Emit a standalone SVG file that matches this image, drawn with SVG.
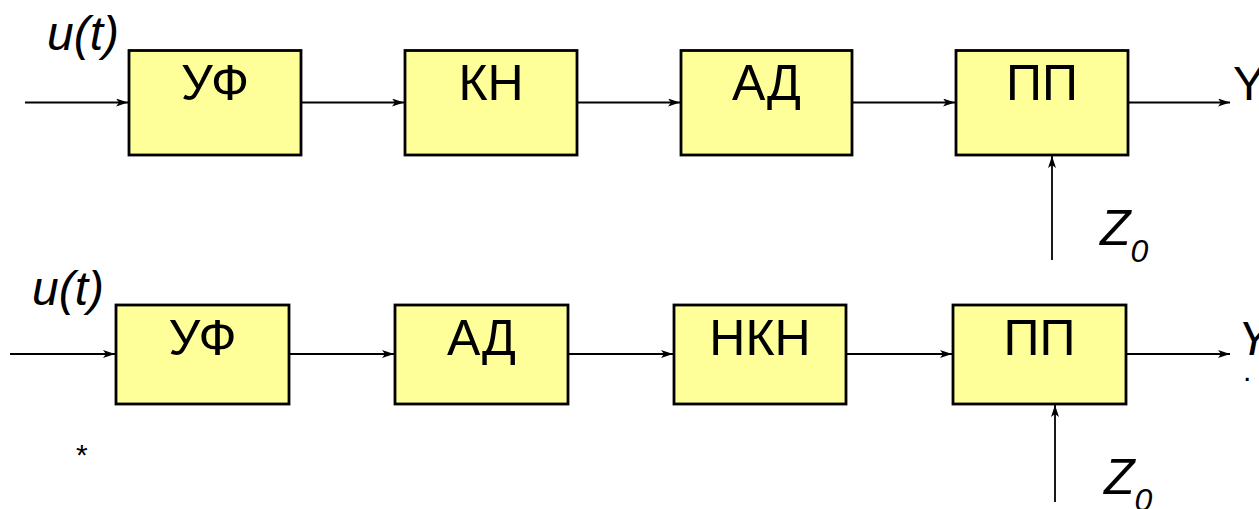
<svg xmlns="http://www.w3.org/2000/svg" width="1259" height="509" viewBox="0 0 1259 509">
<style>
.box{fill:#FFFF99;stroke:#000;stroke-width:2.8}
.lbl{font-family:"Liberation Sans",Arial,sans-serif;font-size:50px;text-anchor:middle;fill:#000}
.it{font-family:"Liberation Sans",Arial,sans-serif;font-style:italic;fill:#000}
.ln{stroke:#000;stroke-width:1.8;fill:none;marker-end:url(#ah)}
</style>
<defs>
<marker id="ah" viewBox="0 0 12 8" refX="12" refY="4" markerWidth="12" markerHeight="8" markerUnits="userSpaceOnUse" orient="auto">
<path d="M0,0 L12,4 L0,8 L3,4 z" fill="#000"/>
</marker>
</defs>
<rect width="1259" height="509" fill="#fff"/>
<g id="connectors">
<line class="ln" x1="25" y1="102.5" x2="128" y2="102.5"/>
<line class="ln" x1="301" y1="102.5" x2="404" y2="102.5"/>
<line class="ln" x1="577" y1="102.5" x2="680" y2="102.5"/>
<line class="ln" x1="852" y1="102.5" x2="955" y2="102.5"/>
<line class="ln" x1="1128" y1="102.5" x2="1230" y2="102.5"/>
<line class="ln" x1="1052" y1="260" x2="1052" y2="156"/>
<line class="ln" x1="10" y1="354" x2="115" y2="354"/>
<line class="ln" x1="289" y1="354" x2="394" y2="354"/>
<line class="ln" x1="568" y1="354" x2="673" y2="354"/>
<line class="ln" x1="846" y1="354" x2="952" y2="354"/>
<line class="ln" x1="1126" y1="354" x2="1230" y2="354"/>
<line class="ln" x1="1055" y1="502" x2="1055" y2="405"/>
</g>
<g id="n1"><rect class="box" x="129" y="50.5" width="172" height="104.5"/><text class="lbl" x="215" y="100">УФ</text></g>
<g id="n2"><rect class="box" x="405" y="50.5" width="172" height="104.5"/><text class="lbl" x="491" y="100">КН</text></g>
<g id="n3"><rect class="box" x="681" y="50.5" width="171" height="104.5"/><text class="lbl" x="766.5" y="100">АД</text></g>
<g id="n4"><rect class="box" x="956" y="50.5" width="172" height="104.5"/><text class="lbl" x="1042" y="100">ПП</text></g>
<g id="n5"><rect class="box" x="116" y="305" width="173" height="99"/><text class="lbl" x="202.5" y="355">УФ</text></g>
<g id="n6"><rect class="box" x="395" y="305" width="173" height="99"/><text class="lbl" x="481.5" y="355">АД</text></g>
<g id="n7"><rect class="box" x="674" y="305" width="172" height="99"/><text class="lbl" x="760" y="355">НКН</text></g>
<g id="n8"><rect class="box" x="953" y="305" width="173" height="99"/><text class="lbl" x="1039.5" y="355">ПП</text></g>
<g id="labels">
<text class="it" x="47" y="50" font-size="48">u(t)</text>
<text class="it" x="32" y="305" font-size="48">u(t)</text>
<text x="1233" y="100" font-family="Liberation Sans, Arial, sans-serif" font-size="48">Y</text>
<text class="it" x="1238" y="355" font-size="48">Y</text>
<text x="1243" y="381" font-family="Liberation Sans, Arial, sans-serif" font-size="30">.</text>
<text class="it" x="1100" y="245" font-size="50">Z<tspan font-size="32" dy="17">0</tspan></text>
<text class="it" x="1104" y="494" font-size="50">Z<tspan font-size="32" dy="17">0</tspan></text>
<text x="76" y="465" font-family="Liberation Sans, Arial, sans-serif" font-size="30">*</text>
</g>
</svg>
